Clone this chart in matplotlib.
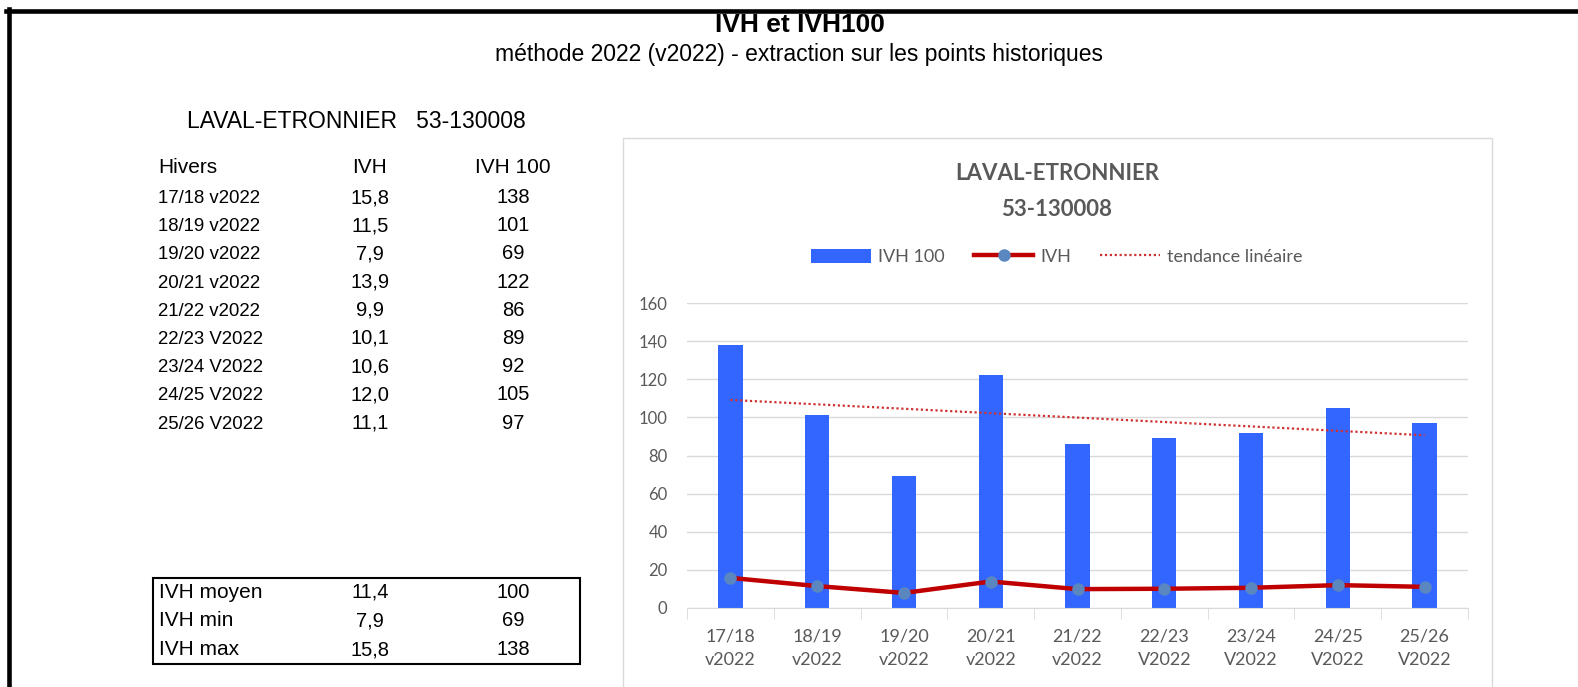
import numpy as np
import matplotlib
matplotlib.use("Agg")
import matplotlib.pyplot as plt
from matplotlib import font_manager
from matplotlib.lines import Line2D
from matplotlib.patches import Patch, Rectangle

# data
hivers = ["17/18 v2022", "18/19 v2022", "19/20 v2022", "20/21 v2022", "21/22 v2022",
          "22/23 V2022", "23/24 V2022", "24/25 V2022", "25/26 V2022"]
ivh = [15.8, 11.5, 7.9, 13.9, 9.9, 10.1, 10.6, 12.0, 11.1]
ivh100 = [138, 101, 69, 122, 86, 89, 92, 105, 97]
resume_labels = ["IVH moyen", "IVH min", "IVH max"]
resume_ivh = [11.4, 7.9, 15.8]
resume_ivh100 = [100, 69, 138]
yticks = [0, 20, 40, 60, 80, 100, 120, 140, 160]

W, H = 1578, 687
available = {f.name for f in font_manager.fontManager.ttflist}
chart_font = "Liberation Sans Narrow" if "Liberation Sans Narrow" in available else "Lato"
sheet_font = "Liberation Sans"
grey = "#595959"

fig = plt.figure(figsize=(W / 100, H / 100), dpi=100)


def fx(px):
    return px / W


def fy(py):
    return 1 - py / H


def fmt(v):
    return f"{v:.1f}".replace(".", ",")


# sheet border (top and left)
fig.add_artist(Line2D([fx(6), 1], [fy(10.5), fy(10.5)], color="black", lw=3.3))
fig.add_artist(Line2D([fx(9), fx(9)], [fy(8.5), 0], color="black", lw=3.3))

fig.text(fx(800), fy(32), "IVH et IVH100", ha="center", va="baseline",
         fontsize=19, fontweight="bold", family=sheet_font)
fig.text(fx(799), fy(54), "méthode 2022 (v2022) - extraction sur les points historiques",
         ha="center", va="center", fontsize=16.5, family=sheet_font)
fig.text(fx(187), fy(122), "LAVAL-ETRONNIER   53-130008", ha="left", va="center",
         fontsize=16.5, family=sheet_font)

# table of winters
col_ivh, col_100 = 370, 513
fig.text(fx(158), fy(173), "Hivers", ha="left", va="baseline", fontsize=15, family=sheet_font)
fig.text(fx(col_ivh), fy(173), "IVH", ha="center", va="baseline", fontsize=15, family=sheet_font)
fig.text(fx(col_100), fy(173), "IVH 100", ha="center", va="baseline", fontsize=15,
         family=sheet_font)
for i, (h, a, b) in enumerate(zip(hivers, ivh, ivh100)):
    y = fy(203 + 28.2 * i)
    fig.text(fx(158), y, h, ha="left", va="baseline", fontsize=13.4, family=sheet_font)
    fig.text(fx(col_ivh), y, fmt(a), ha="center", va="baseline", fontsize=14.5,
             family=sheet_font)
    fig.text(fx(col_100), y, str(b), ha="center", va="baseline", fontsize=14.5,
             family=sheet_font)

# summary box
fig.add_artist(Rectangle((fx(153), fy(664)), fx(580) - fx(153), fy(578) - fy(664),
                         transform=fig.transFigure, fill=False, edgecolor="black", lw=1.5))
for i, (lab, a, b) in enumerate(zip(resume_labels, resume_ivh, resume_ivh100)):
    y = fy(598 + 28.5 * i)
    fig.text(fx(159), y, lab, ha="left", va="baseline", fontsize=15, family=sheet_font)
    fig.text(fx(col_ivh), y, fmt(a), ha="center", va="baseline", fontsize=14.5,
             family=sheet_font)
    fig.text(fx(col_100), y, str(b), ha="center", va="baseline", fontsize=14.5,
             family=sheet_font)

# chart frame
fig.add_artist(Rectangle((fx(623), -0.01), fx(1492) - fx(623), fy(138) + 0.01,
                         transform=fig.transFigure, fill=False, edgecolor="#D9D9D9", lw=1))
fig.text(fx(1057), fy(173), "LAVAL-ETRONNIER", ha="center", va="center", fontsize=16,
         fontweight="bold", color=grey, family=chart_font)
fig.text(fx(1057), fy(209), "53-130008", ha="center", va="center", fontsize=16,
         fontweight="bold", color=grey, family=chart_font)

ax = fig.add_axes([fx(687), fy(608), fx(1468) - fx(687), fy(303) - fy(608)])
x = np.arange(1, len(ivh100) + 1)
ax.bar(x, ivh100, width=0.28, color="#3366FF", zorder=2)
ax.plot(x, ivh, color="#C00000", lw=3.2, marker="o", markersize=8,
        markerfacecolor="#5B87C0", markeredgecolor="#5B87C0", zorder=3)
coef = np.polyfit(x, ivh100, 1)
ax.plot([x[0], x[-1]], np.polyval(coef, [x[0], x[-1]]), color="#D03030", lw=1.6,
        linestyle=(0, (1, 1.2)), zorder=3)

ax.set_xlim(0.5, len(x) + 0.5)
ax.set_ylim(0, 160)
ax.set_yticks(yticks)
ax.yaxis.grid(True, color="#D9D9D9", lw=1)
ax.set_axisbelow(True)
for s in ["top", "right", "left"]:
    ax.spines[s].set_visible(False)
ax.spines["bottom"].set_color("#D9D9D9")
ax.tick_params(axis="y", length=0, pad=14, labelsize=12, labelcolor=grey)
for lab in ax.get_yticklabels():
    lab.set_family(chart_font)
ax.set_xticks(x)
ax.set_xticklabels([h.replace(" ", "\n") for h in hivers], family=chart_font,
                   fontsize=13, color=grey, linespacing=1.55)
ax.tick_params(axis="x", length=0, pad=15)
ax.set_xticks(np.arange(0.5, len(x) + 1, 1), minor=True)
ax.tick_params(axis="x", which="minor", length=8, color="#D9D9D9")

handles = [Patch(facecolor="#3366FF", edgecolor="none"),
           Line2D([], [], color="#C00000", lw=3.2, marker="o", markersize=8,
                  markerfacecolor="#5B87C0", markeredgecolor="#5B87C0"),
           Line2D([], [], color="#D03030", lw=1.6, linestyle=(0, (1, 1.2)))]
leg = fig.legend(handles, ["IVH 100", "IVH", "tendance linéaire"], loc="center",
                 bbox_to_anchor=(fx(1057), fy(257)), ncol=3, frameon=False,
                 prop={"family": chart_font, "size": 13}, handlelength=3.3,
                 handleheight=0.8, handletextpad=0.4, columnspacing=1.6, labelcolor=grey)

fig.savefig("out.png", dpi=100)
